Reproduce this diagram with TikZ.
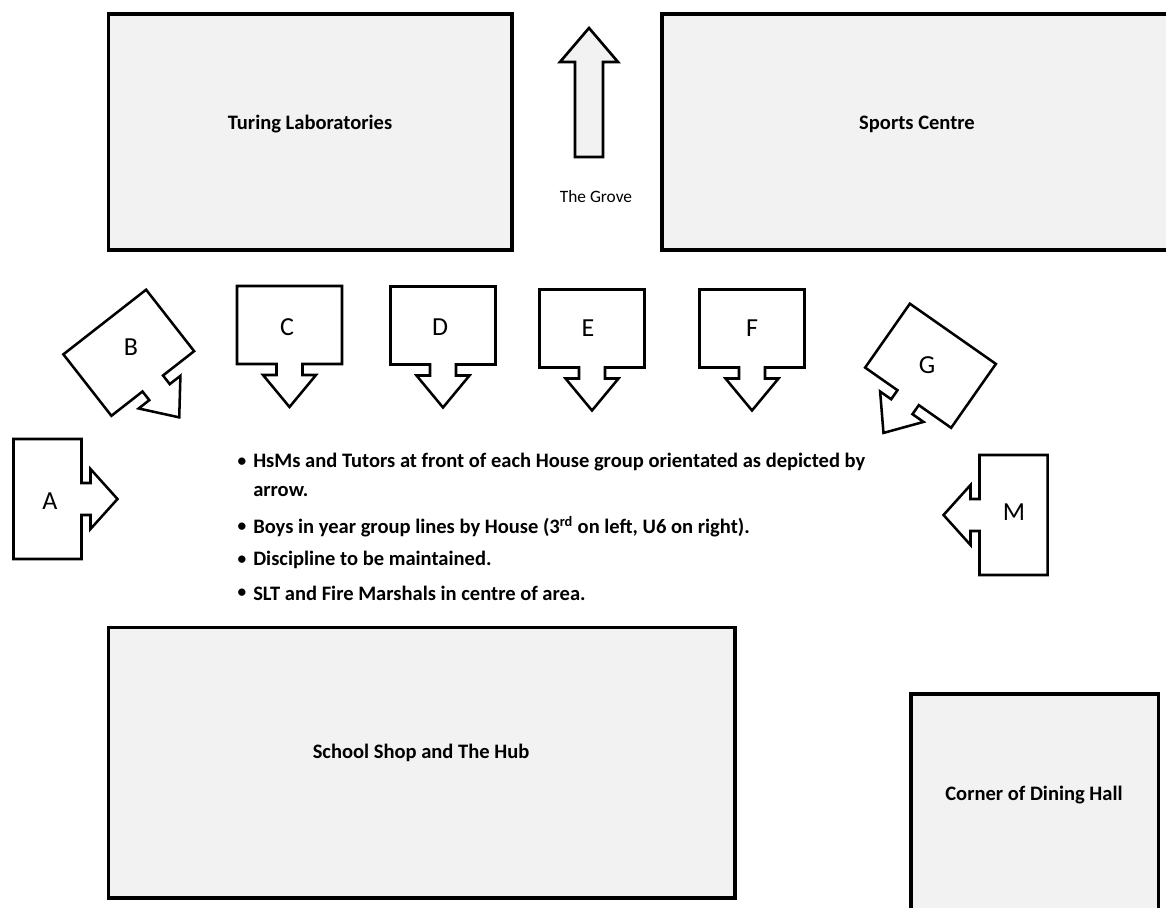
\documentclass[tikz,border=0pt]{standalone}
\usepackage{fontspec}
\setmainfont{Carlito}
\definecolor{bldfill}{RGB}{242,242,242}
\tikzset{
  bld/.style={draw=black, line width=2.6pt, fill=bldfill},
  bldtext/.style={font=\fontsize{15.4}{17}\selectfont\bfseries, inner sep=0pt},
  arrline/.style={draw=black, line width=1.9pt, fill=white, line join=miter},
  letter/.style={font=\fontsize{19.5}{22}\selectfont, inner sep=0pt},
  bullettext/.style={font=\fontsize{15.4}{17}\selectfont\bfseries, inner sep=0pt, anchor=west},
  bulletdot/.style={font=\fontsize{13}{15}\selectfont\bfseries, inner sep=0pt},
  downarr/.pic={\path[arrline] (-52.5,-39) -- (52.5,-39) -- (52.5,39) -- (13,39) -- (13,50) -- (26.5,50) -- (0,82) -- (-26.5,50) -- (-13,50) -- (-13,39) -- (-52.5,39) -- cycle;},
  rightarr/.pic={\path[arrline] (-34,-60) -- (34,-60) -- (34,-16) -- (43,-16) -- (43,-30) -- (70,0) -- (43,30) -- (43,16) -- (34,16) -- (34,60) -- (-34,60) -- cycle;}
}
\begin{document}
\begin{tikzpicture}[x=0.75pt,y=-0.75pt]
\useasboundingbox (0,0) rectangle (1166,907);
\clip (0,0) rectangle (1166,907);
% buildings
\path[bld] (108.5,14) rectangle (512,250);
\node[bldtext] (turing) at (310,124) {Turing Laboratories};
\path[bld] (662,14) rectangle (1185,250);
\node[bldtext] (sports) at (917,124) {Sports Centre};
\path[bld] (108.5,627.5) rectangle (735,898);
\node[bldtext] (shop) at (421,753) {School Shop and The Hub};
\path[bld] (911,694) rectangle (1158.5,930);
\node[bldtext] (dining) at (1034,795) {Corner of Dining Hall};
% grove arrow
\path[draw=black, line width=2pt, fill=bldfill, line join=miter] (589,28) -- (618,62) -- (603,62) -- (603,157) -- (575,157) -- (575,62) -- (560,62) -- cycle;
\node[font=\fontsize{13}{15}\selectfont, inner sep=0pt] (grove) at (596,197) {The Grove};
% house arrows
\pic at (289.5,325) {downarr};
\node[letter] (C) at (287,327) {C};
\pic at (443,325.5) {downarr};
\node[letter] (D) at (440,327) {D};
\pic at (592,328.5) {downarr};
\node[letter] (E) at (588,328) {E};
\pic at (752,328.5) {downarr};
\node[letter] (F) at (752,328) {F};
\pic[rotate=38] at (128.75,352.75) {downarr};
\node[letter] (B) at (131,347) {B};
\pic[rotate=-35] at (930.5,365.75) {downarr};
\node[letter] (G) at (927,365) {G};
\pic at (47.5,499) {rightarr};
\node[letter] (A) at (50,501) {A};
\pic[rotate=180] at (1013.5,515) {rightarr};
\node[letter] (M) at (1014,512) {M};
% bullet notes
\node[bulletdot] (b1) at (242,462) {\textbullet};
\node[bullettext] (t1) at (253,462) {HsMs and Tutors at front of each House group orientated as depicted by};
\node[bullettext] (t1b) at (253,491) {arrow.};
\node[bulletdot] (b2) at (242,527) {\textbullet};
\node[bullettext] (t2) at (253,527) {Boys in year group lines by House (3\textsuperscript{rd} on left, U6 on right).};
\node[bulletdot] (b3) at (242,560) {\textbullet};
\node[bullettext] (t3) at (253,560) {Discipline to be maintained.};
\node[bulletdot] (b4) at (242,593) {\textbullet};
\node[bullettext] (t4) at (253,593) {SLT and Fire Marshals in centre of area.};
\end{tikzpicture}
\end{document}
